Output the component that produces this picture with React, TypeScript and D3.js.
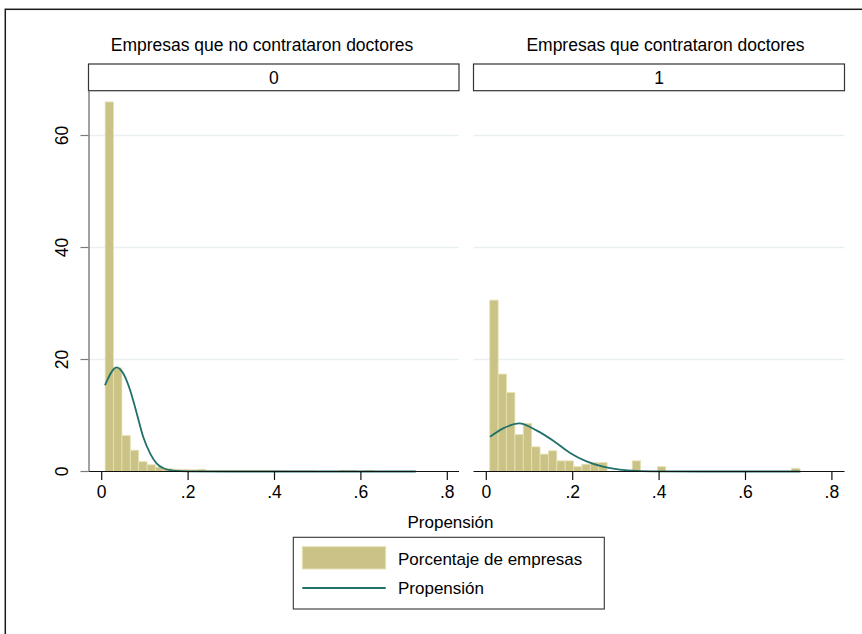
import React from 'react';
import * as d3 from 'd3';

// histogram bins (shared by both panels)
const binStart = 0.008;
const binWidth = 0.0194;

// percent of firms per bin
const pctNoDoctors = [66.0, 18.5, 6.4, 3.8, 1.75, 1.2, 0.8, 0.55, 0.4, 0.35, 0.3, 0.4, 0.2, 0.15, 0.15, 0.15, 0.15, 0.15, 0.15, 0.15, 0.15, 0.1, 0.1, 0.1, 0.1, 0, 0, 0, 0.2, 0.2, 0, 0.2, 0, 0, 0, 0, 0];
const pctDoctors = [30.6, 17.4, 14.1, 6.6, 8.6, 4.4, 3.1, 3.7, 1.9, 1.9, 0.86, 1.3, 1.6, 1.6, 0, 0, 0, 1.9, 0, 0, 0.86, 0, 0, 0, 0, 0, 0, 0, 0, 0, 0, 0, 0, 0, 0, 0, 0.57];

// overlaid propensity curve
const curveNoDoctorsX = [0.0076, 0.0347, 0.05, 0.0655, 0.081, 0.096, 0.112, 0.127, 0.143, 0.166, 0.2, 0.3, 0.727];
const curveNoDoctorsY = [15.4, 18.6, 17.5, 14.6, 10.4, 6.2, 3.25, 1.46, 0.57, 0.15, 0.03, 0, 0];
const curveDoctorsX = [0.0086, 0.039, 0.076, 0.117, 0.155, 0.194, 0.232, 0.27, 0.309, 0.348, 0.4, 0.5, 0.727];
const curveDoctorsY = [6.2, 7.7, 8.6, 7.3, 5.5, 3.3, 1.8, 0.86, 0.35, 0.12, 0.03, 0, 0];

const panelTitles = ['Empresas que no contrataron doctores', 'Empresas que contrataron doctores'];
const stripLabels = ['0', '1'];
const xTicks = [0, 0.2, 0.4, 0.6, 0.8];
const yTicks = [0, 20, 40, 60];
const legendLabels = ['Porcentaje de empresas', 'Propensión'];
const xTitle = 'Propensión';

const FONT = '"Liberation Sans", Arial, Helvetica, sans-serif';
const BAR_FILL = '#cbc385';
const BAR_STROKE = '#e6e1b6';
const LINE = '#21706a';
const GRID = '#e8f0f1';

const panels = [
  { left: 88.5, right: 459, zero: 101.7, titleX: 262, pct: pctNoDoctors, cx: curveNoDoctorsX, cy: curveNoDoctorsY, yAxis: true },
  { left: 473.5, right: 844.5, zero: 486.3, titleX: 665.5, pct: pctDoctors, cx: curveDoctorsX, cy: curveDoctorsY, yAxis: false },
];

const plotTop = 90.7;
const y = d3.scaleLinear().domain([0, 60]).range([471.5, 135.5]);

function fmt(v: number) {
  return v === 0 ? '0' : d3.format('.1f')(v).replace(/^0/, '');
}

function Panel({ p, i }: { p: typeof panels[number]; i: number }) {
  const x = d3.scaleLinear().domain([0, 0.8]).range([p.zero, p.zero + 345.6]);
  const line = d3.line<number>()
    .x((_, k) => x(p.cx[k]))
    .y((d) => y(d))
    .curve(d3.curveMonotoneX);

  return (
    <g>
      <text x={p.titleX} y={50.5} textAnchor="middle" fontSize={17.5}>{panelTitles[i]}</text>
      <rect x={p.left} y={64} width={p.right - p.left} height={plotTop - 64} fill="#fff" stroke="#333" strokeWidth={1.2} />
      <text x={(p.left + p.right) / 2} y={83.8} textAnchor="middle" fontSize={17.5}>{stripLabels[i]}</text>

      {yTicks.filter((t) => t > 0).map((t) => (
        <line key={t} x1={p.left} x2={p.right} y1={y(t)} y2={y(t)} stroke={GRID} strokeWidth={1.3} />
      ))}

      {p.pct.map((v, k) => {
        if (v <= 0) return null;
        const x0 = x(binStart + k * binWidth);
        const x1 = x(binStart + (k + 1) * binWidth);
        return (
          <rect key={k} x={x0} y={y(v)} width={x1 - x0} height={y(0) - y(v)}
            fill={BAR_FILL} stroke={BAR_STROKE} strokeWidth={0.8} />
        );
      })}

      <path d={line(p.cy) || ''} fill="none" stroke={LINE} strokeWidth={1.8} />

      {/* x axis */}
      <line x1={p.left} x2={p.right} y1={y(0)} y2={y(0)} stroke="#111" strokeWidth={1.2} />
      {xTicks.map((t) => (
        <g key={t}>
          <line x1={x(t)} x2={x(t)} y1={y(0)} y2={y(0) + 8.5} stroke="#111" strokeWidth={1.2} />
          <text x={x(t)} y={498} textAnchor="middle" fontSize={17.5}>{fmt(t)}</text>
        </g>
      ))}

      {p.yAxis && (
        <g>
          <line x1={p.left + 0.5} x2={p.left + 0.5} y1={plotTop} y2={y(0)} stroke="#7a7a7a" strokeWidth={1.4} />
          {yTicks.map((t) => (
            <g key={t}>
              <line x1={p.left - 8} x2={p.left} y1={y(t)} y2={y(t)} stroke="#7a7a7a" strokeWidth={1.2} />
              <text transform={`translate(61.7,${y(t)}) rotate(-90)`} dy="0.36em" textAnchor="middle" fontSize={17.5}>{t}</text>
            </g>
          ))}
        </g>
      )}
    </g>
  );
}

export default function App() {
  return (
    <div style={{ position: 'absolute', left: 0, top: 0 }}>
      <svg width={862} height={634} style={{ display: 'block', background: '#fff', fontFamily: FONT }}>
        <rect x={5.3} y={9.3} width={900} height={700} fill="#fff" stroke="#1a1a1a" strokeWidth={1.5} />

        {panels.map((p, i) => <Panel key={i} p={p} i={i} />)}

        <text x={450.5} y={527.5} textAnchor="middle" fontSize={17}>{xTitle}</text>

        {/* legend */}
        <rect x={293.3} y={537.3} width={311} height={71.7} fill="#fff" stroke="#333" strokeWidth={1.1} />
        <rect x={302.3} y={546.7} width={83.4} height={22.3} fill={BAR_FILL} stroke={BAR_STROKE} strokeWidth={1} />
        <text x={398} y={565} fontSize={17}>{legendLabels[0]}</text>
        <line x1={302.3} x2={385.7} y1={588} y2={588} stroke={LINE} strokeWidth={1.8} />
        <text x={398} y={594} fontSize={17}>{legendLabels[1]}</text>
      </svg>
    </div>
  );
}
